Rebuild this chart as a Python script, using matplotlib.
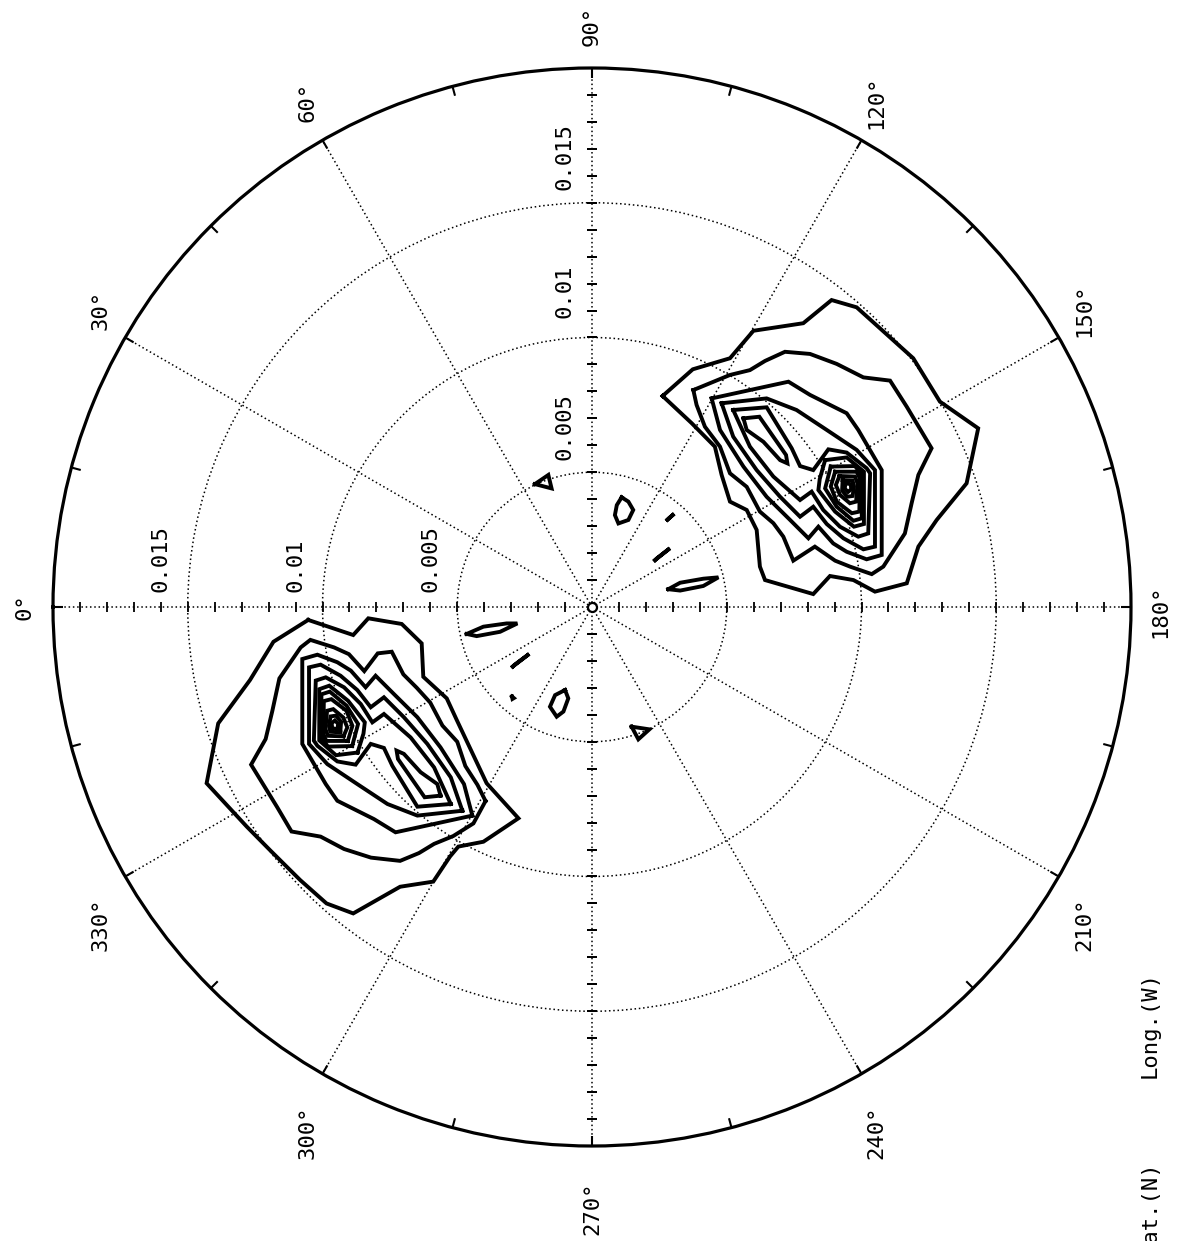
import numpy as np
import matplotlib
matplotlib.use("Agg")
import matplotlib.pyplot as plt

plt.rcParams['font.family'] = ['DejaVu Sans Mono', 'DejaVu Sans']

# ---------------- axis / label data ----------------
R_MAX = 0.02
RING_VALUES = [0.005, 0.01, 0.015]
RADIAL_LABELS = ["0.005", "0.01", "0.015"]
SPOKE_ANGLES = [0, 30, 60, 90, 120, 150, 180, 210, 240, 270, 300, 330]
EDGE_TICK_ANGLES = [0, 15, 30, 45, 60, 75, 90, 105, 120, 135, 150, 165, 180,
                    195, 210, 225, 240, 255, 270, 285, 300, 315, 330, 345]
ANGLE_LABELS = ["0°", "30°", "60°", "90°", "120°", "150°",
                "180°", "210°", "240°", "270°", "300°", "330°"]
RADIAL_TICKS = [0.001 * k for k in range(1, 20)]
AXIS_TITLES = ["Long.(W)", "Lat.(N)"]

# ---------------- contour data ----------------
# vertices in projected map units (x toward 180 deg, y toward 90 deg), unit = 1e-3
R_C1 = [(2.62, 7.83), (3.74, 8.82), (5.12, 9.23), (5.99, 10.25), (7.84, 10.53),
        (8.89, 11.39), (9.82, 11.12), (11.92, 9.23), (12.91, 7.62), (14.33, 6.63),
        (13.90, 4.59), (12.79, 3.23), (12.11, 2.24), (11.68, 0.88), (10.50, 0.57),
        (9.70, 1.00), (8.83, 1.15), (8.21, 0.48), (6.42, 1.00), (6.23, 1.50),
        (6.11, 2.86), (5.74, 3.60), (5.12, 3.91), (4.81, 4.90), (4.56, 5.95),
        (3.70, 6.82)]
R_C2 = [(3.76, 8.05), (5.12, 8.61), (5.86, 8.79), (6.42, 9.13), (7.16, 9.47),
        (8.09, 9.39), (9.08, 9.02), (10.07, 8.52), (11.06, 8.40), (11.68, 7.43),
        (12.60, 5.89), (12.11, 4.90), (11.86, 3.85), (11.61, 2.73), (10.81, 1.50),
        (10.38, 1.22), (9.57, 1.50), (9.02, 1.72), (8.27, 2.24), (7.47, 1.72),
        (7.10, 2.61), (6.73, 3.11), (6.23, 3.54), (5.74, 4.46), (5.12, 4.96),
        (4.75, 5.95), (4.19, 6.69), (3.88, 7.50)]
R_C3 = [(4.44, 7.74), (5.86, 8.05), (7.29, 8.36), (8.09, 7.87), (9.45, 7.19),
        (9.88, 6.57), (10.75, 5.08), (10.75, 1.93), (10.19, 1.77), (9.45, 2.05),
        (8.95, 2.36), (8.40, 2.98), (8.03, 2.55), (7.35, 3.23), (6.48, 4.09),
        (5.62, 5.21), (4.75, 6.57)]
R_C4 = [(4.81, 7.56), (6.48, 7.74), (7.59, 7.31), (8.71, 6.57), (9.82, 5.83),
        (10.50, 5.08), (10.50, 2.24), (10.07, 2.14), (9.33, 2.55), (8.71, 3.08),
        (8.21, 3.72), (7.72, 3.35), (6.98, 4.09), (6.11, 5.08), (5.24, 6.32)]
R_C5 = [(5.24, 7.31), (6.48, 7.41), (7.41, 5.89), (7.72, 5.23), (8.21, 5.08),
        (8.77, 5.85), (9.45, 5.73), (10.19, 5.15), (10.32, 4.96), (10.25, 2.73),
        (9.88, 2.61), (9.20, 2.98), (8.58, 3.60), (8.15, 4.28), (7.72, 3.97),
        (6.73, 4.84), (5.86, 5.95)]
R_C6 = [(5.62, 7.00), (6.21, 7.06), (7.20, 5.64), (7.25, 5.33), (6.98, 5.45),
        (6.36, 6.13), (5.74, 6.57)]
R_P1 = [(8.65, 5.45), (9.45, 5.55), (10.09, 5.02), (10.09, 3.08), (9.72, 2.98),
        (9.02, 3.54), (8.40, 4.34), (8.45, 4.75)]
R_P2 = [(8.86, 5.21), (9.76, 5.23), (10.01, 4.90), (10.01, 3.29), (9.70, 3.20),
        (9.08, 3.72), (8.65, 4.40)]
R_P3 = [(9.02, 5.02), (9.82, 5.02), (9.94, 4.77), (9.92, 3.54), (9.64, 3.48),
        (9.08, 3.91), (8.86, 4.47)]
R_P4 = [(9.18, 4.86), (9.76, 4.84), (9.85, 4.59), (9.80, 3.91), (9.57, 3.85),
        (9.20, 4.16), (9.05, 4.53)]
R_P5 = [(9.30, 4.71), (9.67, 4.69), (9.72, 4.47), (9.67, 4.12), (9.47, 4.09),
        (9.28, 4.32)]
R_P6 = [(9.40, 4.59), (9.60, 4.56), (9.62, 4.37), (9.50, 4.27), (9.38, 4.39)]

L_C1 = [(-10.53, -0.48), (-8.86, -1.04), (-8.30, -0.42), (-7.06, -0.63), (-6.32, -1.35),
        (-6.26, -2.59), (-5.39, -3.39), (-5.02, -4.19), (-3.91, -6.54), (-2.73, -7.84),
        (-4.03, -8.71), (-4.96, -8.89), (-5.27, -9.26), (-5.89, -10.19), (-7.12, -10.38),
        (-8.86, -11.37), (-9.85, -11.00), (-10.83, -10.13), (-11.95, -9.02), (-12.81, -8.15),
        (-14.30, -6.54), (-13.87, -4.32), (-12.69, -2.71), (-11.82, -1.29)]
L_C2 = [(-3.95, -7.20), (-4.40, -8.03), (-5.15, -8.50), (-5.86, -8.79), (-6.42, -9.13),
        (-7.12, -9.42), (-8.20, -9.30), (-9.20, -8.98), (-10.07, -8.52), (-11.15, -8.33),
        (-11.68, -7.43), (-12.65, -5.85), (-12.11, -4.90), (-11.86, -3.85), (-11.60, -2.65),
        (-10.81, -1.50), (-10.45, -1.22), (-9.57, -1.50), (-9.02, -1.75), (-8.45, -2.38),
        (-7.95, -1.72), (-7.43, -1.66), (-7.00, -2.50), (-6.50, -3.00), (-6.00, -3.55),
        (-5.55, -4.40), (-5.00, -5.00), (-4.70, -5.90), (-4.25, -6.60)]
L_C3 = [(-4.44, -7.74), (-5.86, -8.05), (-7.29, -8.36), (-8.09, -7.87), (-9.45, -7.19),
        (-9.88, -6.57), (-10.75, -5.08), (-10.75, -1.93), (-10.19, -1.77), (-9.45, -2.05),
        (-8.95, -2.36), (-8.40, -2.98), (-8.03, -2.55), (-7.35, -3.23), (-6.48, -4.09),
        (-5.62, -5.21), (-4.75, -6.57)]
L_C4 = [(-4.81, -7.56), (-6.48, -7.74), (-7.59, -7.31), (-8.71, -6.57), (-9.82, -5.83),
        (-10.50, -5.08), (-10.50, -2.24), (-10.07, -2.14), (-9.33, -2.55), (-8.71, -3.08),
        (-8.21, -3.72), (-7.72, -3.35), (-6.98, -4.09), (-6.11, -5.08), (-5.24, -6.32)]
L_C5 = [(-5.24, -7.31), (-6.48, -7.41), (-7.41, -5.89), (-7.72, -5.23), (-8.21, -5.08),
        (-8.77, -5.85), (-9.45, -5.73), (-10.19, -5.15), (-10.32, -4.96), (-10.25, -2.73),
        (-9.88, -2.61), (-9.20, -2.98), (-8.58, -3.60), (-8.15, -4.28), (-7.72, -3.97),
        (-6.73, -4.84), (-5.86, -5.95)]
L_C6 = [(-5.62, -7.00), (-6.21, -7.06), (-7.20, -5.64), (-7.25, -5.33), (-6.98, -5.45),
        (-6.36, -6.13), (-5.74, -6.57)]
L_P1 = [(-8.70, -5.40), (-9.50, -5.50), (-10.12, -4.95), (-10.12, -3.05), (-9.75, -2.92),
        (-9.05, -3.48), (-8.43, -4.28), (-8.48, -4.70)]
L_P2 = [(-8.90, -5.16), (-9.80, -5.18), (-10.04, -4.84), (-10.04, -3.24), (-9.73, -3.14),
        (-9.11, -3.66), (-8.68, -4.34)]
L_P3 = [(-9.06, -4.97), (-9.86, -4.97), (-9.97, -4.71), (-9.95, -3.49), (-9.67, -3.42),
        (-9.11, -3.85), (-8.89, -4.41)]
L_P4 = [(-9.22, -4.80), (-9.80, -4.78), (-9.89, -4.53), (-9.83, -3.85), (-9.60, -3.79),
        (-9.23, -4.10), (-9.08, -4.47)]
L_P5 = [(-9.34, -4.65), (-9.71, -4.63), (-9.76, -4.41), (-9.70, -4.06), (-9.50, -4.03),
        (-9.31, -4.26)]
L_P6 = [(-9.44, -4.53), (-9.64, -4.50), (-9.66, -4.31), (-9.54, -4.21), (-9.42, -4.33)]

# small closed contours near the pole
S1 = [(-2.12, 4.56), (-1.62, 4.90), (-1.50, 4.40)]
S2 = [(1.10, 4.07), (1.35, 3.91), (1.53, 3.60), (1.35, 3.23), (0.98, 3.10),
      (0.85, 3.41), (0.92, 3.78)]
S3 = [(2.80, 3.24), (3.05, 3.46), (2.86, 3.30)]
S4 = [(2.34, 1.74), (2.89, 2.18), (2.40, 1.80)]
S5 = [(2.83, 0.66), (3.27, 0.90), (4.13, 1.05), (4.69, 1.10), (4.13, 0.78), (3.27, 0.61)]
S6 = [(-4.65, -1.00), (-4.03, -0.73), (-3.17, -0.61), (-2.77, -0.61), (-3.41, -0.92),
      (-4.28, -1.08)]
S7 = [(-2.94, -2.21), (-2.33, -1.74), (-2.88, -2.15)]
S8 = [(-2.97, -3.32), (-2.90, -3.38), (-2.95, -3.41)]
S9 = [(-1.00, -3.08), (-0.88, -3.39), (-1.06, -3.88), (-1.31, -4.07), (-1.56, -3.70),
      (-1.37, -3.27)]
S10 = [(1.47, -4.44), (2.13, -4.54), (1.72, -4.91)]

CONTOURS = [R_C1, R_C2, R_C3, R_C4, R_C5, R_C6, R_P1, R_P2, R_P3, R_P4, R_P5, R_P6,
            L_C1, L_C2, L_C3, L_C4, L_C5, L_C6, L_P1, L_P2, L_P3, L_P4, L_P5, L_P6,
            S1, S2, S3, S4, S5, S6, S7, S8, S9, S10]
MAP_UNIT = 1e-3


def to_polar(pts):
    a = np.asarray(list(pts) + [pts[0]], float) * MAP_UNIT
    th = np.arctan2(a[:, 1], -a[:, 0])
    r = np.hypot(a[:, 0], a[:, 1])
    return th, r


# ---------------- figure ----------------
W, H = 1182, 1241
fig = plt.figure(figsize=(W / 100, H / 100), dpi=100)
cx, cy, rad = 592, 607, 539
ax = fig.add_axes([(cx - rad) / W, (H - cy - rad) / H, 2 * rad / W, 2 * rad / H],
                  projection='polar')
ax.set_theta_zero_location('W')
ax.set_theta_direction(-1)
ax.set_ylim(0, R_MAX)
ax.set_rticks(RING_VALUES)
ax.set_yticklabels([])
ax.set_xticks(np.deg2rad(SPOKE_ANGLES))
ax.set_xticklabels([])
ax.grid(True, which='major', color='black', linestyle=(0, (1, 1.8)), linewidth=1.1)
ax.tick_params(axis='both', length=0)
ax.spines['polar'].set_linewidth(2.3)

# short inward ticks on the outer circle every 15 degrees
tick_len = 0.00036
for ang in EDGE_TICK_ANGLES:
    a = np.deg2rad(ang)
    ax.plot([a, a], [R_MAX, R_MAX - tick_len], color='black', lw=1.5,
            solid_capstyle='butt', zorder=3)

# radial tick marks along the four principal axes
rt = np.asarray(RADIAL_TICKS)
for ang, mk in [(0, '|'), (180, '|'), (90, '_'), (270, '_')]:
    ax.plot(np.full_like(rt, np.deg2rad(ang)), rt, ls='none', marker=mk,
            ms=7, mew=1.3, color='black', zorder=3)

# contours
for c in CONTOURS:
    th, r = to_polar(c)
    ax.plot(th, r, color='black', lw=2.8, solid_joinstyle='miter', zorder=4)

# pole marker
ax.plot([0], [0], marker='o', ms=6.5, mfc='white', mec='black', mew=1.6, zorder=5)

# angular labels
FS = 16
for ang, lab in zip(SPOKE_ANGLES, ANGLE_LABELS):
    a = np.deg2rad(ang)
    d = 29
    if 0 < ang < 180:
        s = 13
    elif ang > 180:
        s = -33
    elif ang == 180:
        s = -4
    else:
        s = 0
    dx = -d * np.cos(a)
    dy = d * np.sin(a) + s
    ax.annotate(lab, xy=(a, R_MAX), xytext=(dx, dy), textcoords='offset pixels',
                rotation=90, ha='center', va='center', fontsize=FS,
                annotation_clip=False)

# radial value labels
for v, lab in zip(RING_VALUES, RADIAL_LABELS):
    ax.annotate(lab, xy=(0.0, v + 0.001), xytext=(0, 15), textcoords='offset pixels',
                rotation=90, ha='center', va='bottom', fontsize=FS)
    ax.annotate(lab, xy=(np.deg2rad(90), v + 0.0017), xytext=(-17, 0),
                textcoords='offset pixels', rotation=90, ha='right', va='center',
                fontsize=FS)

# axis titles (the lower one runs off the bottom edge, as in the original)
fig.text(1150 / W, 1 - 1025 / H, AXIS_TITLES[0], rotation=90, ha='center',
         va='center', fontsize=FS)
fig.text(1150 / W, 1 - 1207 / H, AXIS_TITLES[1], rotation=90, ha='center',
         va='center', fontsize=FS)

fig.savefig("out.png", dpi=100, facecolor='white')
